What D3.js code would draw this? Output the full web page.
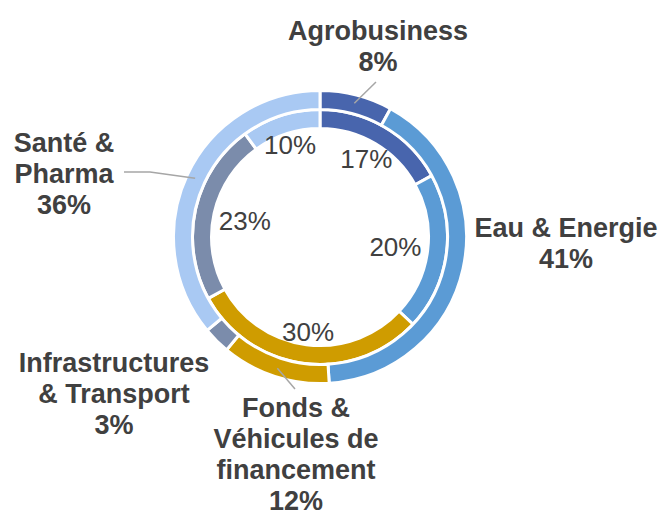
<!DOCTYPE html>
<html>
<head>
<meta charset="utf-8">
<script src="https://cdn.jsdelivr.net/npm/d3@7"></script>
<style>
  body { margin: 0; background: #fff; }
  text { font-family: "Liberation Sans", Arial, sans-serif; fill: #404040; }
</style>
</head>
<body>
<div class="chart"></div>
<script>
// data
var categories = ['Agrobusiness', 'Eau & Energie', 'Fonds & Véhicules de financement', 'Infrastructures & Transport', 'Santé & Pharma'];
var outerValues = [8, 41, 12, 3, 36];
var innerValues = [17, 20, 30, 23, 10];
var colors = ['#4865ad', '#5b9bd5', '#cf9c00', '#7b8cab', '#a9c9f3'];

// label layout (text lines, anchor x, first baseline y)
var outerLabelLines = [
    ['Agrobusiness', '8%'],
    ['Eau & Energie', '41%'],
    ['Fonds &', 'Véhicules de', 'financement', '12%'],
    ['Infrastructures', '& Transport', '3%'],
    ['Santé &', 'Pharma', '36%']
];
var outerLabelPos = [[378, 40], [566, 237], [296, 417], [114, 372], [64, 152]];
var leaderEnds = [[376, 82], null, [295, 389], null, [124, 172]];
var innerLabelR = [91, 76, 95, 77, 97];

var width = 663, height = 517;
var cx = 320, cy = 237;

var svg = d3.select('.chart')
    .append('svg')
    .attr('width', width)
    .attr('height', height);

var g = svg.append('g')
    .attr('transform', `translate(${cx},${cy})`);

var pie = d3.pie().sort(null).value(d => d);

var innerArc = d3.arc().innerRadius(108.5).outerRadius(127.5);
var outerArc = d3.arc().innerRadius(127.5).outerRadius(146.5);

var innerData = pie(innerValues);
var outerData = pie(outerValues);

g.selectAll('path.inner')
    .data(innerData)
    .enter()
    .append('path')
    .attr('class', 'inner')
    .attr('d', innerArc)
    .attr('fill', (d, i) => colors[i])
    .attr('stroke', '#fff')
    .attr('stroke-width', 3);

g.selectAll('path.outer')
    .data(outerData)
    .enter()
    .append('path')
    .attr('class', 'outer')
    .attr('d', outerArc)
    .attr('fill', (d, i) => colors[i])
    .attr('stroke', '#fff')
    .attr('stroke-width', 3);

// inner percentage labels
g.selectAll('text.inner')
    .data(innerData)
    .enter()
    .append('text')
    .attr('class', 'inner')
    .attr('x', (d, i) => Math.sin((d.startAngle + d.endAngle) / 2) * innerLabelR[i])
    .attr('y', (d, i) => -Math.cos((d.startAngle + d.endAngle) / 2) * innerLabelR[i] + 9.5)
    .attr('text-anchor', 'middle')
    .style('font-size', '26px')
    .text(d => d.data + '%');

// leader lines
var lineArc = d3.arc().innerRadius(138).outerRadius(138);
outerData.forEach((d, i) => {
    if (!leaderEnds[i]) return;
    var c = lineArc.centroid(d);
    var e = [leaderEnds[i][0] - cx, leaderEnds[i][1] - cy];
    var pts = [c, e];
    if (i === 4) pts = [c, [e[0] + 26, e[1]], e];
    g.append('path')
        .attr('d', d3.line()(pts))
        .attr('fill', 'none')
        .attr('stroke', '#a6a6a6')
        .attr('stroke-width', 1.5);
});

// outer category labels
outerLabelLines.forEach((lines, i) => {
    var t = svg.append('text')
        .attr('text-anchor', 'middle')
        .style('font-size', '27px')
        .style('font-weight', 'bold');
    lines.forEach((l, j) => {
        t.append('tspan')
            .attr('x', outerLabelPos[i][0])
            .attr('y', outerLabelPos[i][1] + j * 31)
            .text(l);
    });
});
</script>
</body>
</html>
